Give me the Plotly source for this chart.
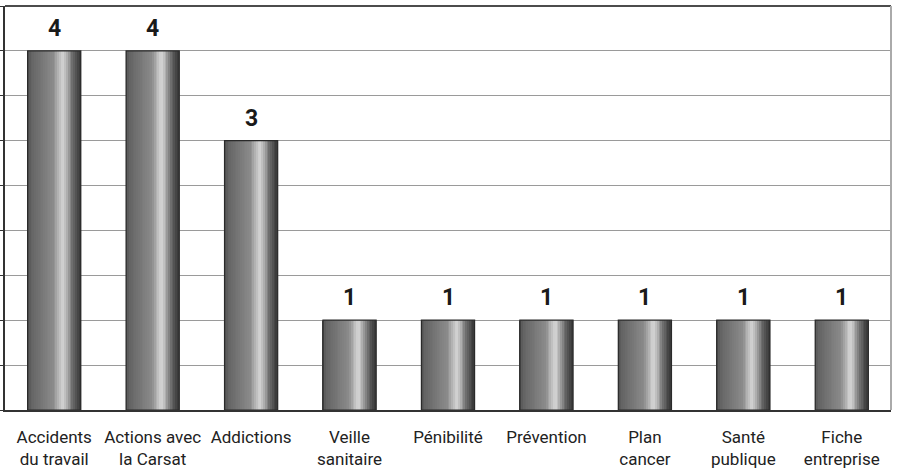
import plotly.graph_objects as go

categories = ["Accidents<br>du travail", "Actions avec<br>la Carsat", "Addictions",
              "Veille<br>sanitaire", "Pénibilité", "Prévention", "Plan<br>cancer",
              "Santé<br>publique", "Fiche<br>entreprise"]
values = [4, 4, 3, 1, 1, 1, 1, 1, 1]

FONT = "Roboto, sans-serif"
BW = 0.54
N = 30
stops = [(0.0, 80), (0.08, 100), (0.5, 140), (0.6, 185), (0.67, 215), (0.74, 180),
         (0.85, 110), (0.95, 70), (1.0, 55)]

def gray(t):
    for (a, ga), (b, gb) in zip(stops[:-1], stops[1:]):
        if a <= t <= b:
            g = ga + (gb - ga) * (t - a) / (b - a)
            g = int(round(g))
            return f"rgb({g},{g},{g})"
    return "rgb(60,60,60)"

fig = go.Figure()
for i in range(N):
    t = (i + 0.5) / N
    fig.add_trace(go.Bar(x=categories, y=values, width=BW / N + 0.002,
                         offset=-BW / 2 + i * BW / N,
                         marker=dict(color=gray(t), line=dict(width=0)),
                         hoverinfo="skip", showlegend=False))
fig.add_trace(go.Bar(x=categories, y=values, width=BW, offset=-BW / 2,
                     marker=dict(color="rgba(0,0,0,0)", line=dict(color="#2a2a2a", width=1.2)),
                     showlegend=False))

annotations = [dict(x=c, y=v, xref="x", yref="y", text=str(v), showarrow=False,
                    yanchor="bottom", yshift=7,
                    font=dict(family=FONT, size=23, color="#1a1a1a", weight="bold"))
               for c, v in zip(categories, values)]

fig.update_layout(
    width=898, height=471, barmode="overlay",
    margin=dict(l=5, r=7, t=6, b=61),
    paper_bgcolor="white", plot_bgcolor="white",
    font=dict(family=FONT, size=17, color="#222"),
    annotations=annotations,
    xaxis=dict(showline=True, linecolor="#333", linewidth=1.5, ticks="",
               tickfont=dict(family=FONT, size=17, color="#222"), tickangle=0,
               ticklabelstandoff=11, showgrid=False, automargin=False),
    yaxis=dict(range=[0, 4.5], dtick=0.5, showgrid=True, gridcolor="#9a9a9a", gridwidth=1,
               showline=True, linecolor="#333", linewidth=1.5, ticks="outside",
               ticklen=4, tickcolor="#333", showticklabels=False, zeroline=False,
               automargin=False),
    shapes=[
        dict(type="line", xref="paper", yref="paper", x0=0, x1=1, y0=1, y1=1,
             line=dict(color="#111", width=1.5)),
        dict(type="line", xref="paper", yref="paper", x0=1, x1=1, y0=0, y1=1,
             line=dict(color="#aaa", width=2)),
    ],
)
fig.write_html("out.html", config={"displayModeBar": False},
               post_script="document.body.style.margin='0';")
